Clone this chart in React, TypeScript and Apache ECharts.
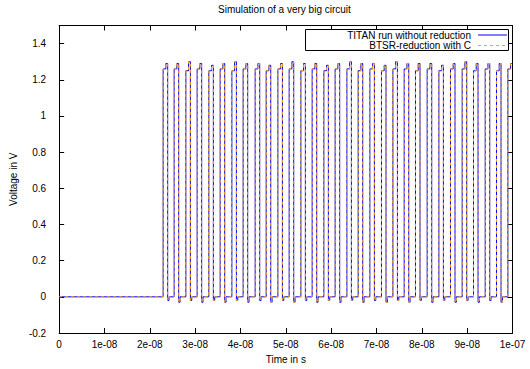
import React, { useEffect, useRef } from "react";
import * as echarts from "echarts";

// Edge times, in nanoseconds
const riseTimesNs = [
  22.94, 25.37, 27.95, 30.44, 33.02, 35.52, 38.1, 40.59, 43.24, 45.67, 48.25,
  50.74, 53.32, 55.81, 58.39, 60.88, 63.47, 65.96, 68.54, 71.1, 73.62, 76.11,
  78.6, 81.18, 83.76, 86.32, 88.9, 91.4, 93.98, 96.47, 98.98,
];
const stepTimesNs = [
  23.54, 25.97, 28.55, 31.04, 33.62, 36.12, 38.7, 41.19, 43.84, 46.27, 48.85,
  51.34, 53.92, 56.41, 58.99, 61.48, 64.07, 66.56, 69.14, 71.7, 74.22, 76.71,
  79.2, 81.78, 84.36, 86.92, 89.5, 92.0, 94.58, 97.07, 99.58,
];
const fallTimesNs = [
  23.94, 26.37, 28.95, 31.44, 34.02, 36.52, 39.1, 41.59, 44.24, 46.67, 49.25,
  51.74, 54.32, 56.81, 59.39, 61.88, 64.47, 66.96, 69.54, 72.1, 74.62, 77.11,
  79.6, 82.18, 84.76, 87.32, 89.9, 92.4, 94.98, 97.47, 100,
];
const settleTimesNs = [
  24.24, 26.67, 29.25, 31.74, 34.32, 36.82, 39.4, 41.89, 44.54, 46.97, 49.55,
  52.04, 54.62, 57.11, 59.69, 62.18, 64.77, 67.26, 69.84, 72.4, 74.92, 77.41,
  79.9, 82.48, 85.06, 87.62, 90.2, 92.7, 95.28, 97.77, 100,
];
const shoulderLevels = [
  1.26, 1.26, 1.25, 1.26, 1.25, 1.26, 1.25, 1.26, 1.26, 1.25, 1.26, 1.26, 1.25,
  1.26, 1.25, 1.26, 1.26, 1.25, 1.26, 1.25, 1.26, 1.26, 1.25, 1.26, 1.25, 1.26,
  1.26, 1.25, 1.26, 1.25, 1.26,
];
const peakLevels = [
  1.29, 1.29, 1.3, 1.29, 1.28, 1.29, 1.3, 1.29, 1.29, 1.28, 1.29, 1.3, 1.29,
  1.29, 1.28, 1.29, 1.3, 1.29, 1.29, 1.28, 1.3, 1.29, 1.29, 1.29, 1.28, 1.29,
  1.3, 1.29, 1.29, 1.29, 1.29,
];
const undershootLevels = [
  -0.02, -0.03, -0.02, -0.03, -0.02, -0.03, -0.02, -0.03, -0.02, -0.03, -0.02,
  -0.03, -0.02, -0.03, -0.02, -0.03, -0.02, -0.03, -0.02, -0.03, -0.02, -0.03,
  -0.02, -0.03, -0.02, -0.03, -0.02, -0.03, -0.02, -0.03, 0,
];

const seriesNames = ["TITAN run without reduction", "BTSR-reduction with C"];
const xTickLabels = [
  "0", "1e-08", "2e-08", "3e-08", "4e-08", "5e-08", "6e-08", "7e-08", "8e-08",
  "9e-08", "1e-07",
];
const yTickLabels = ["-0.2", "0", "0.2", "0.4", "0.6", "0.8", "1", "1.2", "1.4"];

const NS = 1e-9;

function buildWave(): [number, number][] {
  const pts: [number, number][] = [[0, 0]];
  for (let i = 0; i < riseTimesNs.length; i++) {
    const r = riseTimesNs[i] * NS;
    pts.push([r, 0], [r, shoulderLevels[i]]);
    pts.push([stepTimesNs[i] * NS, shoulderLevels[i]]);
    pts.push([stepTimesNs[i] * NS, peakLevels[i]]);
    const f = fallTimesNs[i] * NS;
    pts.push([f, peakLevels[i]]);
    if (fallTimesNs[i] < 100) {
      pts.push([f, undershootLevels[i]]);
      pts.push([settleTimesNs[i] * NS, undershootLevels[i]]);
      pts.push([settleTimesNs[i] * NS, 0]);
    }
  }
  return pts;
}

const FONT = "'Liberation Sans', Arial, Helvetica, sans-serif";

export default function App() {
  const ref = useRef<HTMLDivElement>(null);
  useEffect(() => {
    document.body.style.margin = "0";
    if (!ref.current) return;
    const chart = echarts.init(ref.current, null, { renderer: "svg" });
    const wave = buildWave();
    const axisLine = { show: true, onZero: false, lineStyle: { color: "#000", width: 1 } };
    const axisTick = { show: true, inside: true, length: 5, lineStyle: { color: "#000", width: 1 } };
    const xFmt = (v: number) => {
      const i = Math.round(v / 1e-8);
      return Math.abs(v - i * 1e-8) < 1e-12 && xTickLabels[i] !== undefined ? xTickLabels[i] : "";
    };
    const yFmt = (v: number) => {
      const i = Math.round((v + 0.2) / 0.2);
      return Math.abs(v - (i * 0.2 - 0.2)) < 1e-6 && yTickLabels[i] !== undefined ? yTickLabels[i] : "";
    };
    const option: any = {
      animation: false,
      backgroundColor: "#fff",
      title: {
        text: "Simulation of a very big circuit",
        left: 218,
        top: 4,
        padding: 0,
        textStyle: { fontSize: 10, fontWeight: "normal", color: "#000", fontFamily: FONT },
      },
      grid: { left: 59, right: 17.5, top: 25.5, bottom: 35, containLabel: false },
      xAxis: [
        {
          type: "value",
          min: 0,
          max: 1e-7,
          interval: 1e-8,
          position: "bottom",
          name: "Time in s",
          nameLocation: "middle",
          nameGap: 21,
          nameTextStyle: { fontSize: 10, color: "#000", fontFamily: FONT },
          axisLine,
          axisTick,
          splitLine: { show: false },
          axisLabel: { formatter: xFmt, fontSize: 10, color: "#000", margin: 6, fontFamily: FONT },
        },
        {
          type: "value",
          min: 0,
          max: 1e-7,
          interval: 1e-8,
          position: "top",
          axisLine,
          axisTick,
          splitLine: { show: false },
          axisLabel: { show: false },
        },
      ],
      yAxis: [
        {
          type: "value",
          min: -0.2,
          max: 1.5,
          interval: 0.2,
          position: "left",
          name: "Voltage in V",
          nameLocation: "middle",
          nameGap: 36,
          nameTextStyle: { fontSize: 10, color: "#000", fontFamily: FONT },
          axisLine,
          axisTick,
          splitLine: { show: false },
          axisLabel: { formatter: yFmt, fontSize: 10, color: "#000", margin: 13, fontFamily: FONT, showMaxLabel: false },
        },
        {
          type: "value",
          min: -0.2,
          max: 1.5,
          interval: 0.2,
          position: "right",
          axisLine,
          axisTick,
          splitLine: { show: false },
          axisLabel: { show: false },
        },
      ],
      series: [
        {
          name: seriesNames[0],
          type: "line",
          data: wave,
          showSymbol: false,
          symbol: "none",
          lineStyle: { color: "#0000ff", width: 1 },
          itemStyle: { color: "#0000ff" },
          z: 2,
        },
        {
          name: seriesNames[1],
          type: "line",
          data: wave,
          showSymbol: false,
          symbol: "none",
          lineStyle: { color: "#ffa500", width: 1, type: [3, 3] },
          itemStyle: { color: "#ffa500" },
          z: 3,
        },
      ],
      graphic: [
        {
          type: "rect",
          shape: { x: 305.5, y: 29.5, width: 203, height: 21 },
          style: { fill: "#fff", stroke: "#000", lineWidth: 1 },
          z: 10,
        },
        {
          type: "text",
          x: 471,
          y: 35,
          style: {
            text: seriesNames[0],
            fill: "#000",
            font: `10px ${FONT}`,
            textAlign: "right",
            textVerticalAlign: "middle",
            align: "right",
            verticalAlign: "middle",
          },
          z: 11,
        },
        {
          type: "text",
          x: 471,
          y: 45.5,
          style: {
            text: seriesNames[1],
            fill: "#000",
            font: `10px ${FONT}`,
            textAlign: "right",
            textVerticalAlign: "middle",
            align: "right",
            verticalAlign: "middle",
          },
          z: 11,
        },
        {
          type: "line",
          shape: { x1: 478, y1: 35, x2: 507, y2: 35 },
          style: { stroke: "#0000ff", lineWidth: 1 },
          z: 11,
        },
        {
          type: "line",
          shape: { x1: 478, y1: 45.5, x2: 507, y2: 45.5 },
          style: { stroke: "#ffa500", lineWidth: 1, lineDash: [3, 3] },
          z: 11,
        },
      ],
    };
    chart.setOption(option);
    return () => chart.dispose();
  }, []);
  return <div ref={ref} style={{ width: 530, height: 369 }} />;
}
